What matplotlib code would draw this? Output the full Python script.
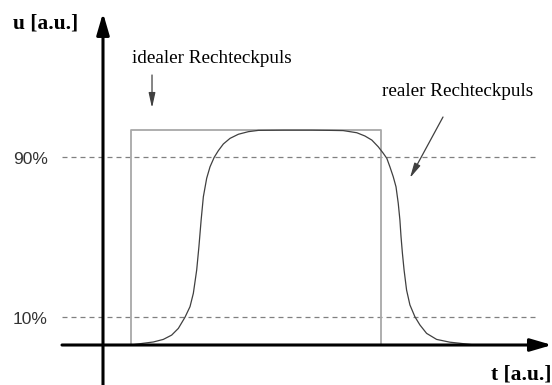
import numpy as np
import matplotlib.pyplot as plt

# ideal rectangular pulse (t in a.u., u normalised to the pulse height)
t_ideal = [1.0, 1.0, 10.0, 10.0]
u_ideal = [0.0, 1.0, 1.0, 0.0]

t_rise = [1.00, 1.45, 1.81, 2.17, 2.47, 2.71, 2.95, 3.13, 3.25, 3.37, 3.45,
          3.53, 3.61, 3.73, 3.85, 4.00, 4.15, 4.33, 4.57, 4.87, 5.23, 5.59,
          6.50, 7.50]
u_rise = [0.0, 0.008, 0.014, 0.026, 0.046, 0.077, 0.129, 0.178, 0.240, 0.348,
          0.456, 0.580, 0.688, 0.774, 0.827, 0.871, 0.902, 0.933, 0.959, 0.978,
          0.990, 0.996, 0.997, 0.997]
t_fall = [8.17, 8.64, 9.13, 9.42, 9.67, 9.90, 10.08, 10.21, 10.32, 10.44,
          10.54, 10.62, 10.68, 10.72, 10.77, 10.83, 10.92, 11.04, 11.22, 11.40,
          11.64, 12.00, 12.48, 12.84, 13.38]
u_fall = [0.996, 0.995, 0.985, 0.970, 0.951, 0.920, 0.890, 0.866, 0.827, 0.781,
          0.734, 0.658, 0.580, 0.503, 0.426, 0.348, 0.255, 0.186, 0.131, 0.093,
          0.054, 0.026, 0.013, 0.008, 0.0]

levels = [0.130, 0.872]
level_labels = ['10%', '90%']

fig = plt.figure(figsize=(5.52, 3.85), dpi=100)
ax = fig.add_axes([0, 0, 1, 1])
ax.set_xlim(-3.705, 16.151)
ax.set_ylim(-0.1856, 1.601)
ax.axis('off')

# 10% / 90% levels
for lev, lab in zip(levels, level_labels):
    ax.plot([-1.47, 15.7], [lev, lev], color='#808080', lw=0.9,
            dashes=(4, 3.2))
    ax.text(-3.237, lev - 0.01, lab, ha='left', va='center',
            family='Liberation Sans', fontsize=12.5, color='#333333')

ax.plot(t_ideal, u_ideal, color='#a8a8a8', lw=1.3)
ax.plot(t_rise + t_fall, u_rise + u_fall, color='#404040', lw=0.9)

# coordinate axes with arrow heads
ax.annotate('', xy=(16.151, 0), xytext=(-1.475, 0),
            arrowprops=dict(arrowstyle='-|>,head_length=1.3,head_width=0.38',
                            lw=2.2, color='black', shrinkA=0, shrinkB=0))
ax.annotate('', xy=(0, 1.541), xytext=(0, -0.1856),
            arrowprops=dict(arrowstyle='-|>,head_length=1.3,head_width=0.38',
                            lw=2.2, color='black', shrinkA=0, shrinkB=0))

ax.text(-3.237, 1.471, 'u [a.u.]', ha='left', va='baseline',
        family='Liberation Serif', fontweight='bold', fontsize=15.5)
ax.text(16.151, -0.158, 't [a.u.]', ha='right', va='baseline',
        family='Liberation Serif', fontweight='bold', fontsize=15.5)

ax.text(1.043, 1.309, 'idealer Rechteckpuls', ha='left', va='baseline',
        family='Liberation Serif', fontsize=13.8)
ax.annotate('', xy=(1.763, 1.100), xytext=(1.763, 1.253),
            arrowprops=dict(arrowstyle='-|>,head_length=0.9,head_width=0.2',
                            lw=0.9, color='#404040', shrinkA=0, shrinkB=0))

ax.text(10.04, 1.155, 'realer Rechteckpuls', ha='left', va='baseline',
        family='Liberation Serif', fontsize=13.8)
ax.annotate('', xy=(11.04, 0.775), xytext=(12.23, 1.058),
            arrowprops=dict(arrowstyle='-|>,head_length=0.9,head_width=0.2',
                            lw=0.9, color='#404040', shrinkA=0, shrinkB=0))

fig.savefig('out.png', dpi=100)
